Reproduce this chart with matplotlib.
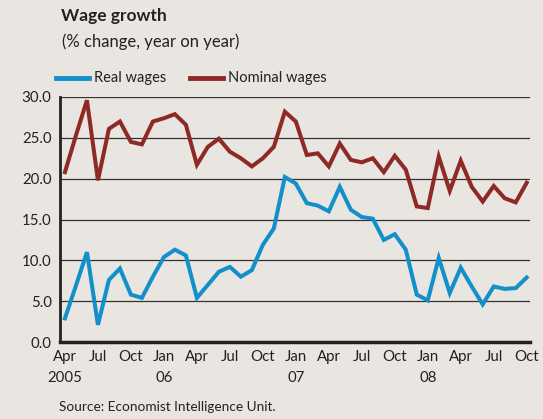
import matplotlib.pyplot as plt

# monthly data, Apr 2005 - Oct 2008
real_wages = [2.9, 6.9, 11.0, 2.1, 7.6, 9.0, 5.8, 5.4, 8.0, 10.4, 11.3, 10.6,
              5.4, 7.0, 8.6, 9.2, 8.0, 8.8, 11.9, 13.9, 20.2, 19.4, 17.0, 16.7,
              16.0, 19.0, 16.2, 15.3, 15.1, 12.5, 13.2, 11.3, 5.8, 5.1, 10.3, 6.0,
              9.1, 6.8, 4.6, 6.8, 6.5, 6.6, 7.9]
nominal_wages = [20.8, 25.3, 29.6, 19.8, 26.1, 27.0, 24.5, 24.2, 27.0, 27.4, 27.9, 26.6,
                 21.7, 23.9, 24.9, 23.3, 22.5, 21.5, 22.5, 23.9, 28.2, 27.0, 22.9, 23.1,
                 21.5, 24.3, 22.3, 22.0, 22.5, 20.8, 22.8, 21.1, 16.6, 16.4, 22.7, 18.5,
                 22.2, 19.0, 17.2, 19.1, 17.6, 17.1, 19.5]
tick_labels = ["Apr\n2005", "Jul", "Oct", "Jan\n06", "Apr", "Jul", "Oct", "Jan\n07",
               "Apr", "Jul", "Oct", "Jan\n08", "Apr", "Jul", "Oct"]
y_ticks = [0, 5, 10, 15, 20, 25, 30]

bg = "#E9E6E1"
blue = "#1390CA"
red = "#8E2A25"
plt.rcParams["font.family"] = ["Lato", "DejaVu Sans"]

fig = plt.figure(figsize=(5.43, 4.19), dpi=100, facecolor=bg)
ax = fig.add_axes([60 / 543, 1 - 342 / 419, 470 / 543, 245 / 419])
ax.set_facecolor(bg)

months = list(range(len(real_wages)))
ax.plot(months, real_wages, color=blue, lw=2.9, solid_joinstyle="miter")
ax.plot(months, nominal_wages, color=red, lw=2.9, solid_joinstyle="miter")

ax.set_xlim(-0.45, 42.3)
ax.set_ylim(0, 30)
ax.set_yticks(y_ticks)
ax.set_yticklabels([f"{v:.1f}" for v in y_ticks], fontsize=10.8, color="#222222")
ax.set_xticks(range(0, 43, 3))
ax.set_xticklabels(tick_labels, fontsize=10.8, color="#222222", linespacing=1.6)
ax.tick_params(axis="both", length=0)
ax.tick_params(axis="y", pad=6)
ax.tick_params(axis="x", pad=6)
ax.grid(axis="y", color="#333333", lw=0.9)
ax.set_axisbelow(True)
for s in ["top", "right"]:
    ax.spines[s].set_visible(False)
ax.spines["left"].set_linewidth(2)
ax.spines["bottom"].set_linewidth(2.5)
ax.spines["left"].set_color("#222222")
ax.spines["bottom"].set_color("#222222")

# titles
fig.text(61 / 543, 1 - 16 / 419, "Wage growth", fontsize=12.5, fontweight="bold",
         color="#222222", va="center")
fig.text(62 / 543, 1 - 42 / 419, "(% change, year on year)", fontsize=12,
         color="#222222", va="center")

# legend
fig.add_artist(plt.Line2D([56 / 543, 89 / 543], [1 - 78 / 419] * 2, color=blue, lw=3.5))
fig.text(94 / 543, 1 - 78 / 419, "Real wages", fontsize=10.5, color="#222222", va="center")
fig.add_artist(plt.Line2D([190 / 543, 223 / 543], [1 - 78 / 419] * 2, color=red, lw=3.5))
fig.text(228 / 543, 1 - 78 / 419, "Nominal wages", fontsize=10.5, color="#222222", va="center")

fig.text(59 / 543, 1 - 407 / 419, "Source: Economist Intelligence Unit.", fontsize=9.8,
         color="#222222", va="center")

fig.savefig("out.png", dpi=100, facecolor=bg)
